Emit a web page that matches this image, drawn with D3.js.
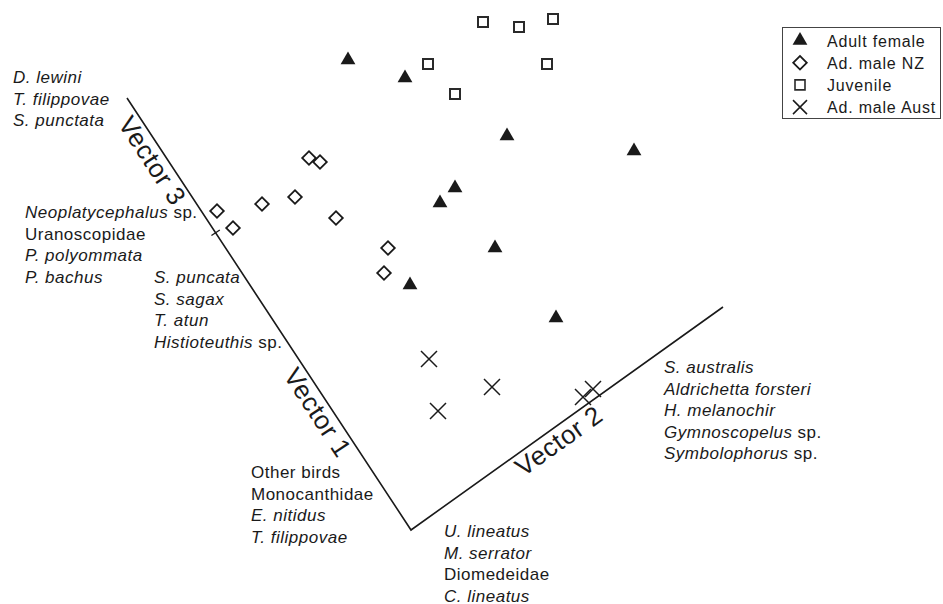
<!DOCTYPE html>
<html>
<head>
<meta charset="utf-8">
<script src="https://cdn.jsdelivr.net/npm/d3@7"></script>
<style>
  body { margin: 0; background: #fff; }
  svg text { font-family: "Liberation Sans", Arial, sans-serif; fill: #1a1a1a; }
</style>
</head>
<body>
<div id="my_dataviz"></div>
<script>
// ordination scores (plot units)
var adultFemale = [[34.8,6.0],[40.5,7.8],[50.7,13.6],[63.4,15.1],[45.5,18.8],[44.0,20.3],[49.5,24.8],[41.0,28.5],[55.6,31.8]];
var adMaleNZ = [[30.9,15.8],[32.0,16.2],[21.7,21.1],[23.3,22.8],[26.2,20.4],[29.5,19.7],[33.6,21.8],[38.8,24.8],[38.4,27.3]];
var juvenile = [[48.3,2.2],[51.9,2.7],[55.3,1.9],[42.8,6.4],[54.7,6.4],[45.5,9.4]];
var adMaleAust = [[42.9,35.9],[49.2,38.7],[43.8,41.1],[58.3,39.7],[59.3,38.9]];

// the three projected vectors: end of 3, common origin, end of 2
var vectorPath = [[12.7,9.8],[41.1,53.0],[72.3,30.7]];
var vectorNames = ["Vector 3", "Vector 1", "Vector 2"];

// species labels at the vector ends, [italic part, roman part]
var labelGroups = [
  {at: [1.3, 8.3],  lines: [["D. lewini",""],["T. filippovae",""],["S. punctata",""]]},
  {at: [2.5, 21.8], lines: [["Neoplatycephalus"," sp."],["","Uranoscopidae"],["P. polyommata",""],["P. bachus",""]]},
  {at: [15.4, 28.3], lines: [["S. puncata",""],["S. sagax",""],["T. atun",""],["Histioteuthis"," sp."]]},
  {at: [25.1, 47.8], lines: [["","Other birds"],["","Monocanthidae"],["E. nitidus",""],["T. filippovae",""]]},
  {at: [44.4, 53.7], lines: [["U. lineatus",""],["M. serrator",""],["","Diomedeidae"],["C. lineatus",""]]},
  {at: [66.4, 37.3], lines: [["S. australis",""],["Aldrichetta forsteri",""],["H. melanochir",""],["Gymnoscopelus"," sp."],["Symbolophorus"," sp."]]}
];

var legendNames = ["Adult female", "Ad. male NZ", "Juvenile", "Ad. male Aust"];

var width = 943, height = 604;

var svg = d3.select("#my_dataviz")
  .append("svg")
    .attr("width", width)
    .attr("height", height);

var x = d3.scaleLinear().domain([0, 94.3]).range([0, width]);
var y = d3.scaleLinear().domain([0, 60.4]).range([0, height]);

var ink = "#1a1a1a";

// vectors
svg.append("path")
  .datum(vectorPath)
  .attr("fill", "none")
  .attr("stroke", ink)
  .attr("stroke-width", 1.6)
  .attr("d", d3.line().x(function(d){ return x(d[0]); }).y(function(d){ return y(d[1]); }));

function segPoint(a, b, t) {
  return [x(a[0]) + (x(b[0]) - x(a[0])) * t, y(a[1]) + (y(b[1]) - y(a[1])) * t];
}
function segAngle(a, b) {
  return Math.atan2(y(b[1]) - y(a[1]), x(b[0]) - x(a[0]));
}

// small tick on vector 3
var tk = segPoint(vectorPath[0], vectorPath[1], 0.312);
var ang = segAngle(vectorPath[0], vectorPath[1]);
var nx = Math.sin(ang), ny = -Math.cos(ang);
svg.append("line")
  .attr("x1", tk[0] - nx * 5).attr("y1", tk[1] - ny * 5)
  .attr("x2", tk[0] + nx * 5).attr("y2", tk[1] + ny * 5)
  .attr("stroke", ink).attr("stroke-width", 1.4);

// vector names along the lines
var vecLabels = [
  {a: vectorPath[0], b: vectorPath[1], t: 0.128},
  {a: vectorPath[0], b: vectorPath[1], t: 0.711},
  {a: vectorPath[1], b: vectorPath[2], t: 0.449}
];
vecLabels.forEach(function(v, i) {
  var p = segPoint(v.a, v.b, v.t);
  var an = segAngle(v.a, v.b);
  var ux = Math.sin(an), uy = -Math.cos(an);
  var off = 13;
  svg.append("text")
    .attr("transform", "translate(" + (p[0] - ux * off) + "," + (p[1] - uy * off) + ") rotate(" + (an * 180 / Math.PI) + ")")
    .attr("text-anchor", "middle")
    .attr("dy", "0.36em")
    .style("font-size", "26px")
    .style("letter-spacing", "0.6px")
    .text(vectorNames[i]);
});

// species label blocks
labelGroups.forEach(function(g) {
  var t = svg.append("text")
    .attr("x", x(g.at[0]))
    .attr("y", y(g.at[1]))
    .style("font-size", "17px")
    .style("letter-spacing", "0.5px");
  g.lines.forEach(function(l, i) {
    var first = true;
    if (l[0]) {
      t.append("tspan")
        .attr("x", x(g.at[0]))
        .attr("dy", i === 0 ? 0 : 21.5)
        .style("font-style", "italic")
        .text(l[0]);
      first = false;
    }
    if (l[1]) {
      var s = t.append("tspan").text(l[1]);
      if (first) s.attr("x", x(g.at[0])).attr("dy", i === 0 ? 0 : 21.5);
    }
  });
});

// symbols
var tri = d3.symbol().type(d3.symbolTriangle).size(95);
var sq = d3.symbol().type(d3.symbolSquare).size(100);
var dia = d3.symbol().type(d3.symbolSquare).size(92);
function crossPath(r) {
  return "M" + (-r) + "," + (-r) + "L" + r + "," + r + "M" + (-r) + "," + r + "L" + r + "," + (-r);
}

svg.append("g").selectAll("path")
  .data(adultFemale).enter().append("path")
    .attr("transform", function(d){ return "translate(" + x(d[0]) + "," + y(d[1]) + ")"; })
    .attr("d", tri)
    .attr("fill", ink);

svg.append("g").selectAll("path")
  .data(juvenile).enter().append("path")
    .attr("transform", function(d){ return "translate(" + x(d[0]) + "," + y(d[1]) + ")"; })
    .attr("d", sq)
    .attr("fill", "none").attr("stroke", "#2a2a2a").attr("stroke-width", 2);

svg.append("g").selectAll("path")
  .data(adMaleNZ).enter().append("path")
    .attr("transform", function(d){ return "translate(" + x(d[0]) + "," + y(d[1]) + ") rotate(45)"; })
    .attr("d", dia)
    .attr("fill", "none").attr("stroke", ink).attr("stroke-width", 1.8);

svg.append("g").selectAll("path")
  .data(adMaleAust).enter().append("path")
    .attr("transform", function(d){ return "translate(" + x(d[0]) + "," + y(d[1]) + ")"; })
    .attr("d", crossPath(8))
    .attr("fill", "none").attr("stroke", ink).attr("stroke-width", 1.5);

// legend
var lg = svg.append("g");
lg.append("rect")
  .attr("x", 782.5).attr("y", 27.5).attr("width", 158).attr("height", 91)
  .attr("fill", "#fff").attr("stroke", "#444").attr("stroke-width", 1);
var legendMarks = [
  function(g){ g.append("path").attr("d", tri).attr("fill", ink); },
  function(g){ g.append("path").attr("d", dia).attr("transform", "rotate(45)").attr("fill", "none").attr("stroke", ink).attr("stroke-width", 1.8); },
  function(g){ g.append("path").attr("d", sq).attr("fill", "none").attr("stroke", "#2a2a2a").attr("stroke-width", 1.6); },
  function(g){ g.append("path").attr("d", crossPath(7)).attr("fill", "none").attr("stroke", ink).attr("stroke-width", 1.5); }
];
legendNames.forEach(function(name, i) {
  var by = 46.5 + i * 22.2;
  var g = lg.append("g").attr("transform", "translate(800," + (by - 6) + ")");
  legendMarks[i](g);
  lg.append("text")
    .attr("x", 827).attr("y", by)
    .style("font-size", "16px")
    .style("letter-spacing", "0.8px")
    .text(name);
});
</script>
</body>
</html>
